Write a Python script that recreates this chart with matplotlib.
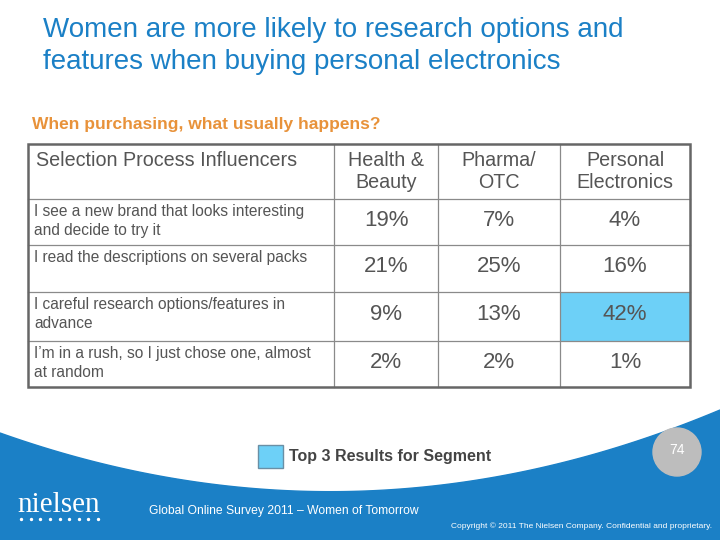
import numpy as np
import matplotlib
matplotlib.use('Agg')
import matplotlib.pyplot as plt
from matplotlib.patches import Rectangle, Polygon, Circle

plt.rcParams['font.family'] = ['Liberation Sans', 'DejaVu Sans']

# table data
segments = ["Health &\nBeauty", "Pharma/\nOTC", "Personal\nElectronics"]
influencers = [
    "I see a new brand that looks interesting\nand decide to try it",
    "I read the descriptions on several packs\n",
    "I careful research options/features in\nadvance",
    "I\u2019m in a rush, so I just chose one, almost\nat random",
]
health_beauty = [19, 21, 9, 2]
pharma_otc = [7, 25, 13, 2]
personal_electronics = [4, 16, 42, 1]
# (row, column) of the top 3 results for segment
highlighted = [(2, 2)]

title = "Women are more likely to research options and\nfeatures when buying personal electronics"
question = "When purchasing, what usually happens?"

BLUE = "#1b80c6"
TEXT = "#555555"
HILITE = "#6dd0f7"

fig = plt.figure(figsize=(7.2, 5.4), dpi=100)
ax = fig.add_axes([0, 0, 1, 1])
ax.set_xlim(0, 720)
ax.set_ylim(540, 0)
ax.axis('off')

# blue band at the bottom with curved top edge
xs = np.linspace(0, 720, 200)
coef = np.polyfit([0, 413, 720], [433, 488, 410], 2)
ys = np.polyval(coef, xs)
band = np.column_stack([np.r_[xs, 720, 0], np.r_[ys, 540, 540]])
ax.add_patch(Polygon(band, closed=True, color=BLUE, zorder=1))

# title and question
ax.text(43, 46, title, fontsize=20, color=BLUE, va='center', ha='left', linespacing=1.3)
ax.text(32, 125, question, fontsize=12.5, color="#e8923a", fontweight='bold', va='center')

# table layout
col_edges = [28, 334, 438, 560, 690]
row_edges = [144, 199, 245, 292, 341, 387]
values = np.array([health_beauty, pharma_otc, personal_electronics]).T

for r, c in highlighted:
    ax.add_patch(Rectangle((col_edges[c + 1], row_edges[r + 1]),
                           col_edges[c + 2] - col_edges[c + 1],
                           row_edges[r + 2] - row_edges[r + 1],
                           color=HILITE, zorder=2, lw=0))

for y in row_edges[1:-1]:
    ax.plot([col_edges[0], col_edges[-1]], [y, y], color="#8a8a8a", lw=0.9, zorder=3)
for x in col_edges[1:-1]:
    ax.plot([x, x], [row_edges[0], row_edges[-1]], color="#8a8a8a", lw=0.9, zorder=3)
ax.add_patch(Rectangle((col_edges[0], row_edges[0]), col_edges[-1] - col_edges[0],
                       row_edges[-1] - row_edges[0], fill=False, ec="#666666", lw=1.8, zorder=4))

ax.text(36, 160, "Selection Process Influencers", fontsize=14.2, color=TEXT, va='center')
for j, seg in enumerate(segments):
    cx = (col_edges[j + 1] + col_edges[j + 2]) / 2
    ax.text(cx, 172, seg, fontsize=14.2, color=TEXT, ha='center', va='center', linespacing=1.2)

for i, label in enumerate(influencers):
    y0 = row_edges[i + 1]
    ax.text(34, y0 + 5, label, fontsize=11.2, color=TEXT, va='top', linespacing=1.3)
    cy = (row_edges[i + 1] + row_edges[i + 2]) / 2 - 2
    for j in range(len(segments)):
        cx = (col_edges[j + 1] + col_edges[j + 2]) / 2
        ax.text(cx, cy, f"{values[i, j]}%", fontsize=16, color=TEXT, ha='center', va='center')

# legend
ax.add_patch(Rectangle((258, 445), 25, 23, facecolor=HILITE, edgecolor="#6a8fa5", lw=1, zorder=5))
ax.text(289, 457, "Top 3 Results for Segment", fontsize=11.5, color="#444444", fontweight='bold',
        va='center', zorder=5)

# page number
ax.add_patch(Circle((677, 452), 24, color="#bdbdbd", zorder=5))
ax.text(677, 450, "74", fontsize=10, color="white", ha='center', va='center', zorder=6)

# footer
ax.text(17, 505, "nielsen", fontsize=21, color="white", family='Liberation Serif',
        va='center', zorder=6)
ax.scatter(np.linspace(21, 98, 9), [519] * 9, s=2, color="white", zorder=6)
ax.text(149, 511, "Global Online Survey 2011 \u2013 Women of Tomorrow", fontsize=8.7,
        color="white", va='center', zorder=6)
ax.text(712, 526, "Copyright \u00a9 2011 The Nielsen Company. Confidential and proprietary.",
        fontsize=6, color="white", ha='right', va='center', zorder=6)

fig.savefig("out.png", dpi=100)
